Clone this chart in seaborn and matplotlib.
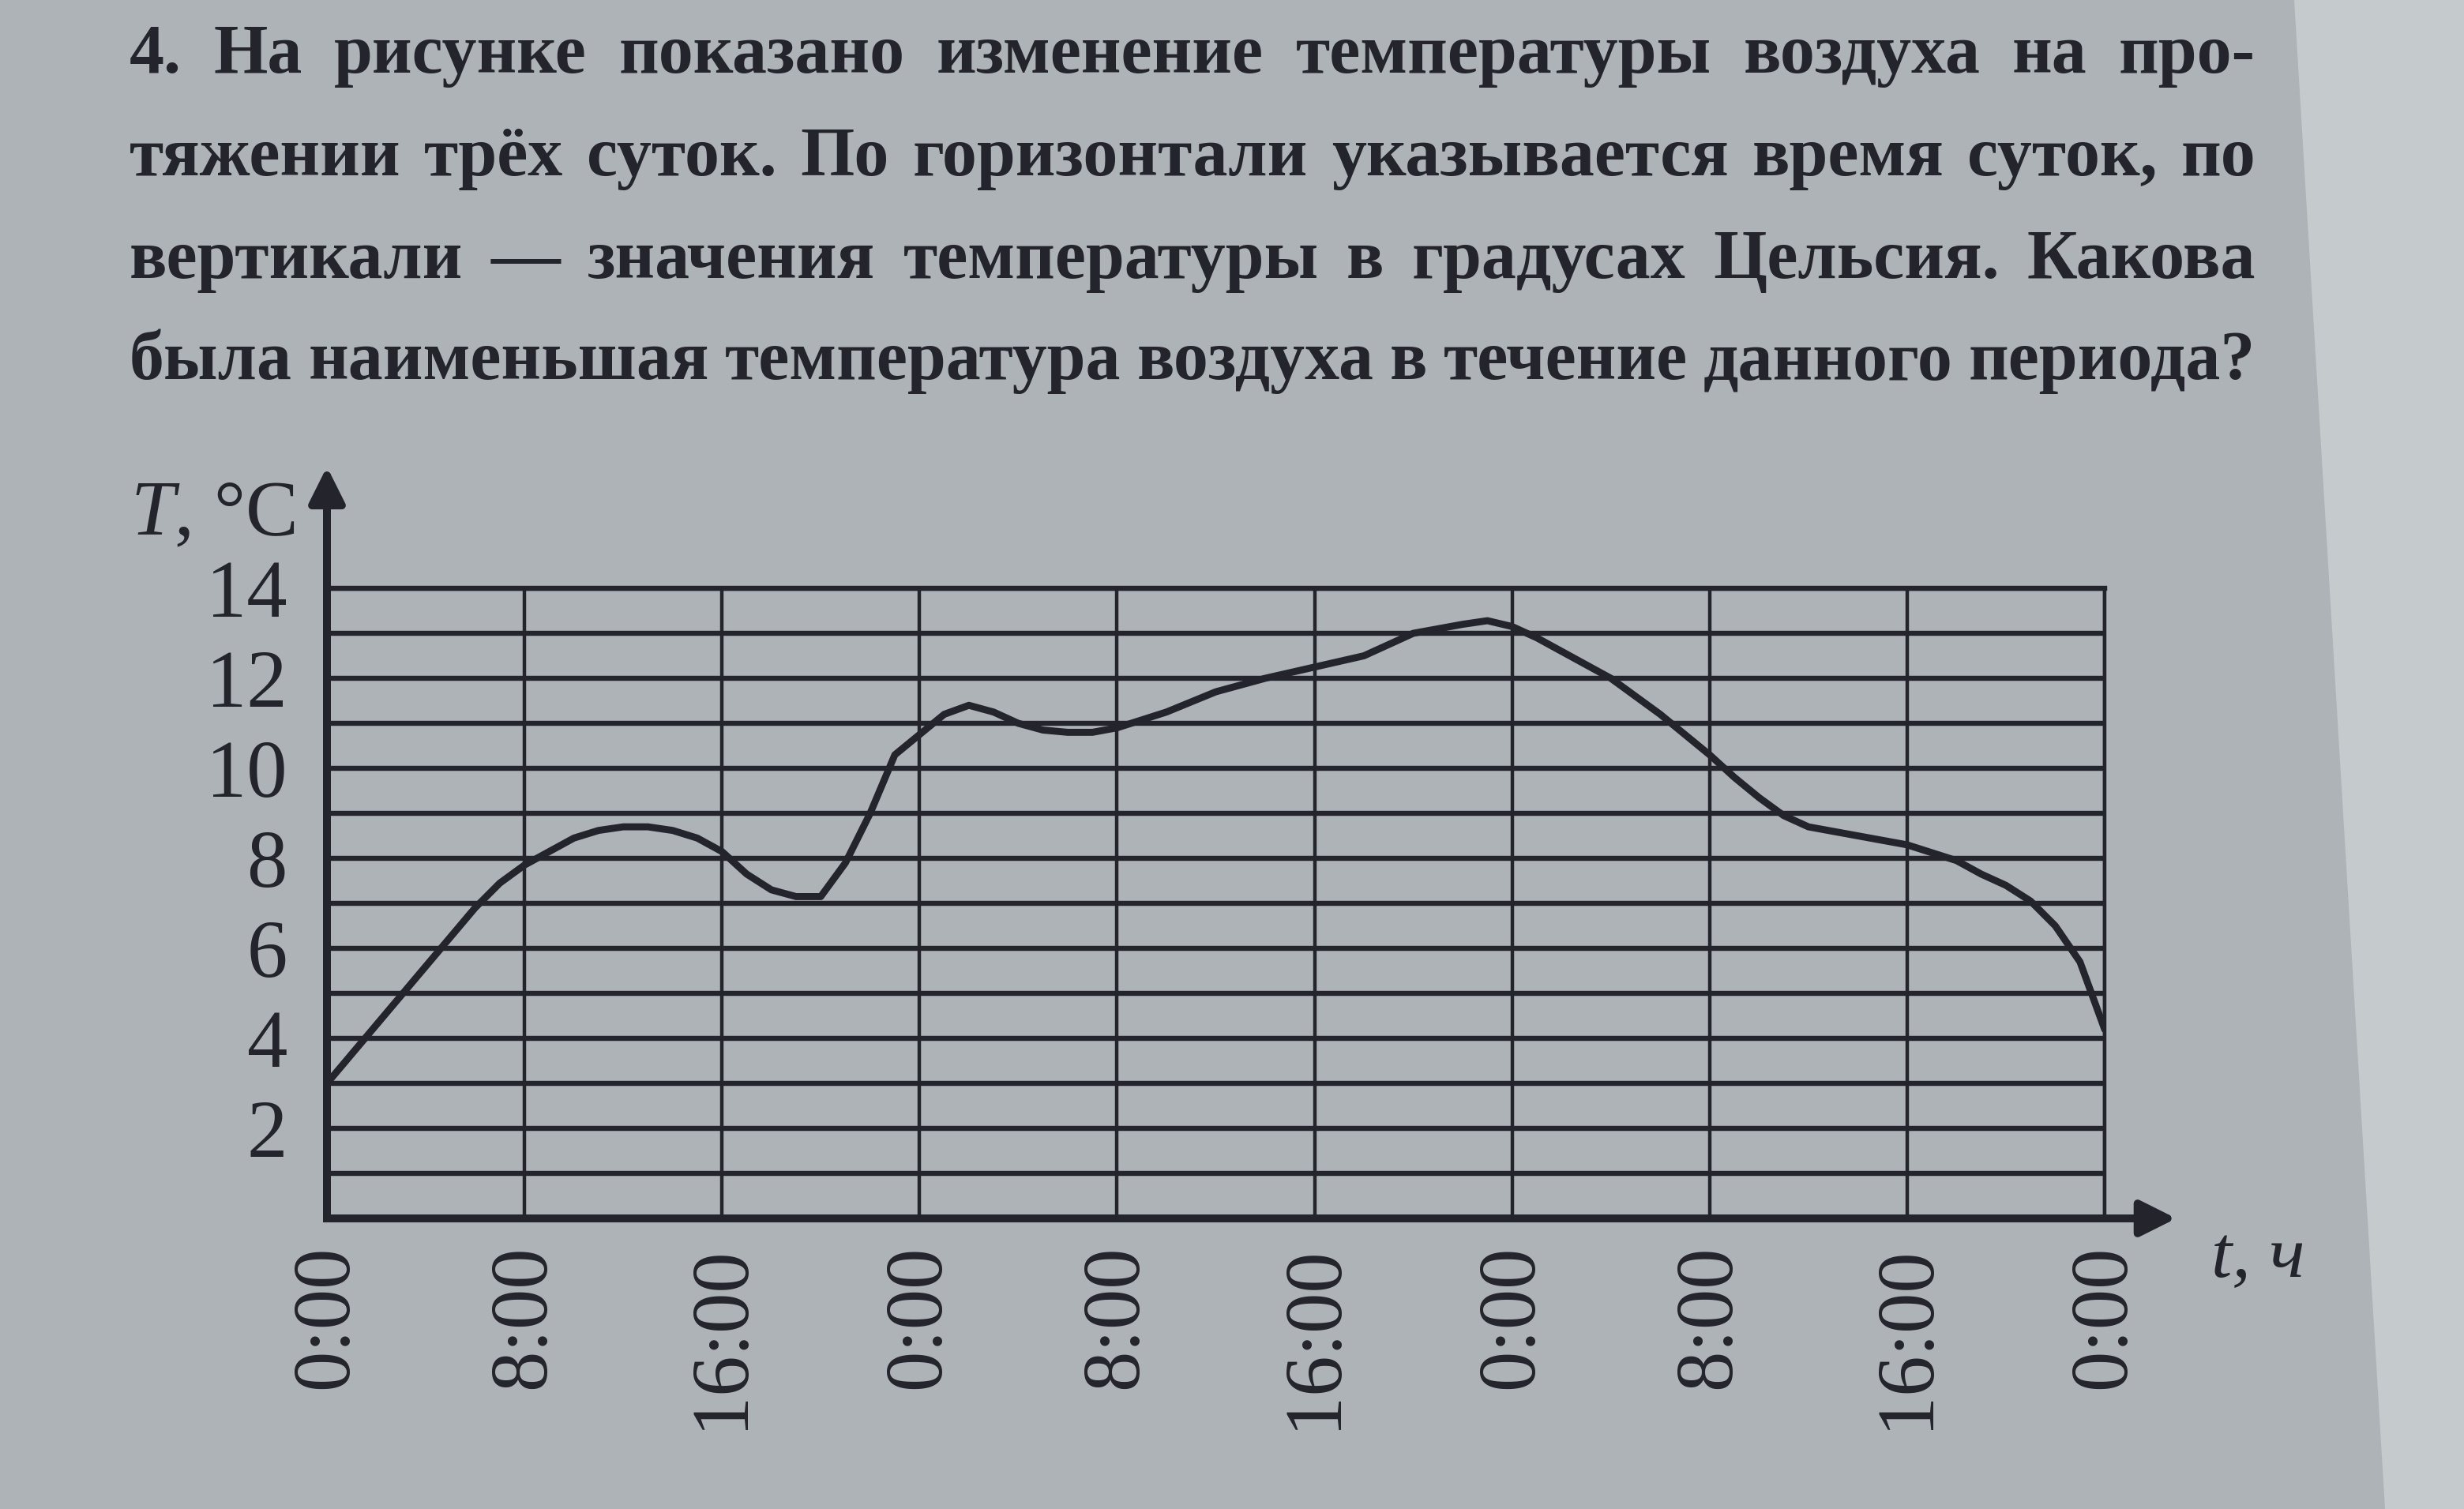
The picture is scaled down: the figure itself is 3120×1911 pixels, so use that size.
import matplotlib
matplotlib.use("Agg")
import matplotlib.pyplot as plt
from matplotlib.patches import Polygon
import seaborn as sns

# hours from the start of the 3 days, temperature in °C
hours = [0, 2, 4, 6, 7, 8, 9, 10, 11, 12, 13, 14, 15, 16, 17, 18, 19, 20, 21, 22, 23, 24,
         25, 26, 27, 28, 29, 30, 31, 32, 34, 36, 38, 40, 42, 44, 46, 47, 48, 49, 50, 52,
         54, 56, 57, 58, 59, 60, 62, 64, 66, 67, 68, 69, 70, 71, 72]
temps = [3.0, 4.3, 5.6, 6.9, 7.45, 7.85, 8.15, 8.45, 8.62, 8.7, 8.7, 8.62, 8.45, 8.15,
         7.65, 7.3, 7.15, 7.15, 7.9, 9.0, 10.3, 10.75, 11.2, 11.4, 11.25, 11.0, 10.85,
         10.8, 10.8, 10.9, 11.25, 11.7, 12.0, 12.25, 12.5, 13.0, 13.2, 13.28, 13.15, 12.9,
         12.6, 12.0, 11.2, 10.3, 9.8, 9.35, 8.95, 8.7, 8.5, 8.3, 7.95, 7.65, 7.4, 7.05, 6.5,
         5.7, 4.2]

x_ticks = [0, 8, 16, 24, 32, 40, 48, 56, 64, 72]
x_labels = ["0:00", "8:00", "16:00", "0:00", "8:00", "16:00", "0:00", "8:00", "16:00", "0:00"]
y_ticks = [2, 4, 6, 8, 10, 12, 14]

question = [
    "4. На рисунке показано изменение температуры воздуха на про-",
    "тяжении трёх суток. По горизонтали указывается время суток, по",
    "вертикали — значения температуры в градусах Цельсия. Какова",
    "была наименьшая температура воздуха в течение данного периода?",
]

paper = "#adb3b7"
ink = "#24242c"

sns.set_style("white")
plt.rcParams["font.family"] = ["Liberation Serif", "DejaVu Serif"]
plt.rcParams["mathtext.fontset"] = "custom"
plt.rcParams["mathtext.rm"] = "Liberation Serif"
plt.rcParams["mathtext.it"] = "Liberation Serif:italic"

W, H = 3120, 1911
fig = plt.figure(figsize=(15.6, 9.555), dpi=200)
fig.patch.set_facecolor(paper)
fig.patches.append(Polygon([[2905 / W, 1], [1, 1], [1, 0], [3020 / W, 0]],
                           closed=True, transform=fig.transFigure,
                           facecolor="#c5cacd", edgecolor="none", zorder=-1))

# question text, justified word by word between two margins
renderer = fig.canvas.get_renderer()
left_px, right_px = 164, 2856
baselines = [92, 222, 352, 480]
text_style = dict(fontweight="bold", color=ink, va="baseline", ha="left",
                  family=["Liberation Serif", "DejaVu Serif"])

# pick one size so that the tightest line still keeps a small word gap
probe = 30
scale = 10.0
for line in question:
    words = line.split(" ")
    total = 0
    for w in words:
        t = fig.text(0, 0, w, fontsize=probe, **text_style)
        total += t.get_window_extent(renderer).width
        t.remove()
    scale = min(scale, (right_px - left_px - 20 * (len(words) - 1)) / total)
size = probe * scale

for line, base in zip(question, baselines):
    words = line.split(" ")
    texts = [fig.text(0, 1 - base / H, w, fontsize=size, **text_style) for w in words]
    widths = [t.get_window_extent(renderer).width for t in texts]
    gap = (right_px - left_px - sum(widths)) / (len(words) - 1)
    x = left_px
    for t, w in zip(texts, widths):
        t.set_x(x / W)
        x += w + gap

ax = fig.add_axes([414 / W, 1 - 1543 / H, (2665 - 414) / W, (1543 - 745) / H])
ax.set_facecolor(paper)

line = sns.lineplot(x=hours, y=temps, ax=ax, color=ink, linewidth=3.2, zorder=5)
for ln in ax.lines:
    ln.set_solid_joinstyle("round")
    ln.set_solid_capstyle("round")

ax.set_xlim(0, 72)
ax.set_ylim(0, 14)
ax.set_xlabel("")
ax.set_ylabel("")
ax.set_xticks(x_ticks)
ax.set_xticklabels(x_labels, rotation=90)
ax.set_yticks(y_ticks)
ax.set_yticks(range(1, 14, 2), minor=True)

ax.grid(True, axis="y", which="both", color=ink, linewidth=2.3)
ax.grid(True, axis="x", which="major", color=ink, linewidth=1.6)
ax.set_axisbelow(True)

ax.tick_params(axis="y", which="major", length=11, width=2.4, color=ink, pad=7,
               labelsize=37, labelcolor=ink, direction="out")
ax.tick_params(axis="y", which="minor", length=0)
ax.tick_params(axis="x", length=0, pad=12, labelsize=37, labelcolor=ink)

for side in ["left", "bottom"]:
    ax.spines[side].set_linewidth(3.6)
    ax.spines[side].set_color(ink)
ax.spines["top"].set_linewidth(2.3)
ax.spines["top"].set_color(ink)
ax.spines["right"].set_linewidth(1.6)
ax.spines["right"].set_color(ink)

# axis arrows
arrow = dict(arrowstyle="-|>", lw=3.6, color=ink, mutation_scale=34, shrinkA=0, shrinkB=0)
ax.annotate("", xy=(0, 16.7), xytext=(0, 0), arrowprops=arrow, annotation_clip=False)
ax.annotate("", xy=(74.9, 0), xytext=(0, 0), arrowprops=arrow, annotation_clip=False)

ax.text(-1.3, 15.6, r"$T$, °C", ha="right", va="center", fontsize=36, color=ink,
        clip_on=False)
ax.text(78.2, -0.9, "t, ч", ha="center", va="center", fontsize=34, style="italic",
        color=ink, clip_on=False)

fig.savefig("out.png", dpi=200, facecolor=paper)
